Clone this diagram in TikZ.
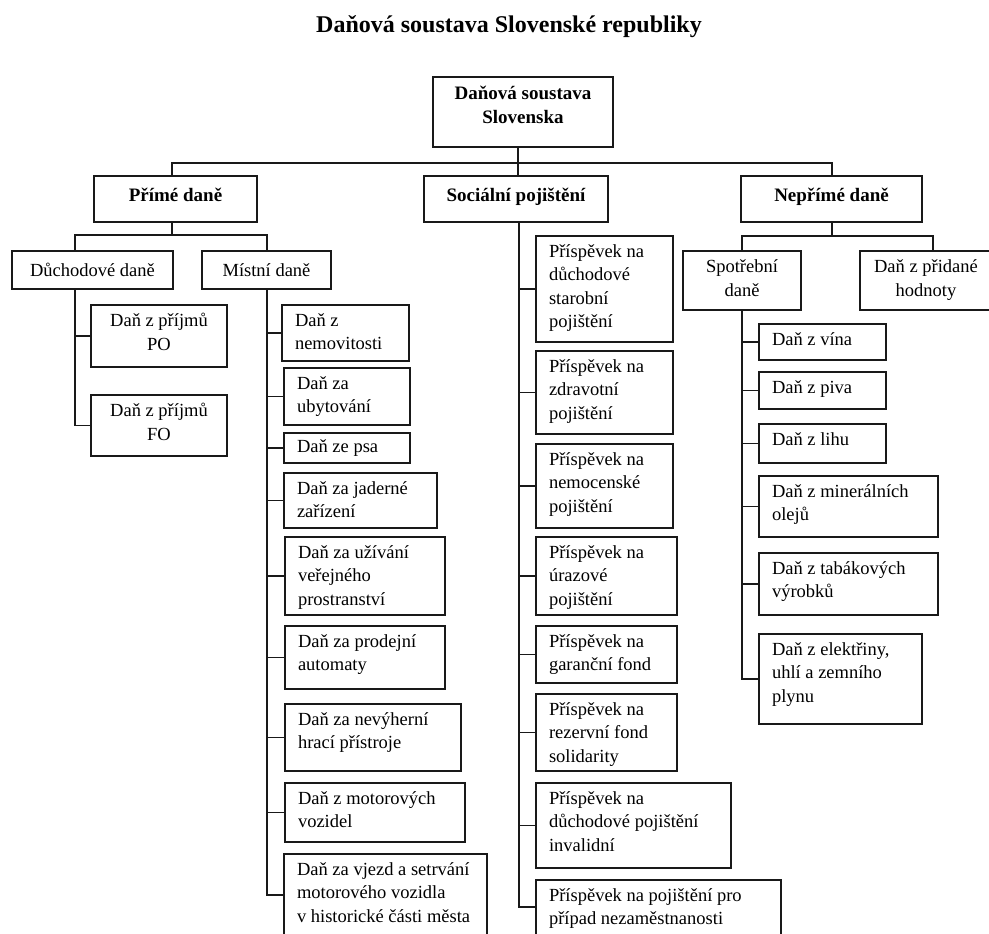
\documentclass[tikz,border=0pt]{standalone}
\usepackage{fontspec}
\setmainfont{Liberation Serif}
\tikzset{
  bx/.style={draw=black!90, line width=1.5pt, inner sep=0pt, outer sep=0pt, fill=white},
  tx/.style={inner sep=0pt, outer sep=0pt, font=\fontsize{18.5}{23.5}\selectfont},
  bt/.style={inner sep=0pt, outer sep=0pt, font=\fontsize{19}{23.5}\selectfont\bfseries},
  ln/.style={draw=black!90, line width=1.8pt},
}
% box: name x1 y1 x2 y2
\newcommand\lbx[5]{%
  \node[bx, minimum width={#4-#2}, minimum height={#5-#3}] (#1) at ({(#2+#4)/2},{(#3+#5)/2}) {};
}
% left-aligned text: [yshift] name text
\newcommand\lbxt[3][5]{%
  \node[tx, anchor=north west, align=left] (#2t) at ([xshift=13pt, yshift=-#1pt]#2.north west) {\strut #3};
}
% centred text: [yshift] name text style
\newcommand\cbxt[4][5]{%
  \node[#4, anchor=north, align=center] (#2t) at ([yshift=-#1pt]#2.north) {\strut #3};
}
\begin{document}
\begin{tikzpicture}[x=1pt, y=-1pt]
\useasboundingbox (0,0) rectangle (989,934);
\clip (0,0) rectangle (989,934);
\fill[white] (0,0) rectangle (989,934);

\node[anchor=base, font=\fontsize{24}{28}\selectfont\bfseries, inner sep=0pt] (title) at (509,33) {Daňová soustava Slovenské republiky};

% trunk coordinates
\coordinate (tD) at (75,0);
\coordinate (tM) at (267,0);
\coordinate (tS) at (519,0);
\coordinate (tC) at (742,0);
\coordinate (h0) at (518,163);
\coordinate (h1) at (172,235);
\coordinate (h2) at (832,236);

% top level
\lbx{root}{433}{77}{613}{147}
\lbx{prime}{94}{176}{257}{222}
\lbx{soc}{424}{176}{608}{222}
\lbx{nep}{741}{176}{922}{222}
\cbxt[6.5]{root}{Daňová soustava\\Slovenska}{bt}
\cbxt[9.5]{prime}{Přímé daně}{bt}
\cbxt[9.5]{soc}{Sociální pojištění}{bt}
\cbxt[9.5]{nep}{Nepřímé daně}{bt}

% second level
\lbx{duch}{12}{251}{173}{289}
\lbx{mist}{202}{251}{331}{289}
\cbxt[9.5]{duch}{Důchodové daně}{tx}
\cbxt[9.5]{mist}{Místní daně}{tx}
\lbx{sp}{683}{251}{801}{310}
\lbx{dph}{860}{251}{992}{310}
\cbxt[5.5]{sp}{Spotřební\\daně}{tx}
\cbxt[5.5]{dph}{Daň z přidané\\hodnoty}{tx}

% income taxes
\lbx{po}{91}{305}{227}{367}
\lbx{fo}{91}{395}{227}{456}
\cbxt[5.5]{po}{Daň z příjmů\\PO}{tx}
\cbxt[5.5]{fo}{Daň z příjmů\\FO}{tx}

% local taxes
\lbx{ma}{282}{305}{409}{361}
\lbx{mb}{284}{368}{410}{425}
\lbx{mc}{284}{433}{410}{463}
\lbx{md}{284}{473}{437}{528}
\lbx{me}{285}{537}{445}{615}
\lbx{mf}{285}{626}{445}{689}
\lbx{mg}{285}{704}{461}{771}
\lbx{mh}{285}{783}{465}{842}
\lbx{mi}{284}{854}{487}{940}
\lbxt{ma}{Daň z\\nemovitosti}
\lbxt{mb}{Daň za\\ubytování}
\lbxt[3.5]{mc}{Daň ze psa}
\lbxt{md}{Daň za jaderné\\zařízení}
\lbxt{me}{Daň za užívání\\veřejného\\prostranství}
\lbxt{mf}{Daň za prodejní\\automaty}
\lbxt{mg}{Daň za nevýherní\\hrací přístroje}
\lbxt{mh}{Daň z motorových\\vozidel}
\lbxt{mi}{Daň za vjezd a setrvání\\motorového vozidla\\v historické části města}

% social insurance
\lbx{sa}{536}{236}{673}{342}
\lbx{sb}{536}{351}{673}{434}
\lbx{sc}{536}{444}{673}{528}
\lbx{sd}{536}{537}{677}{615}
\lbx{se}{536}{626}{677}{683}
\lbx{sf}{536}{694}{677}{771}
\lbx{sg}{536}{783}{731}{868}
\lbx{sh}{536}{880}{781}{940}
\lbxt{sa}{Příspěvek na\\důchodové\\starobní\\pojištění}
\lbxt{sb}{Příspěvek na\\zdravotní\\pojištění}
\lbxt{sc}{Příspěvek na\\nemocenské\\pojištění}
\lbxt{sd}{Příspěvek na\\úrazové\\pojištění}
\lbxt{se}{Příspěvek na\\garanční fond}
\lbxt{sf}{Příspěvek na\\rezervní fond\\solidarity}
\lbxt{sg}{Příspěvek na\\důchodové pojištění\\invalidní}
\lbxt{sh}{Příspěvek na pojištění pro\\případ nezaměstnanosti}

% excise taxes
\lbx{ca}{759}{324}{886}{360}
\lbx{cb}{759}{372}{886}{409}
\lbx{cc}{759}{424}{886}{463}
\lbx{cd}{759}{476}{938}{537}
\lbx{ce}{759}{553}{938}{615}
\lbx{cf}{759}{634}{922}{724}
\lbxt{ca}{Daň z vína}
\lbxt{cb}{Daň z piva}
\lbxt{cc}{Daň z lihu}
\lbxt{cd}{Daň z minerálních\\olejů}
\lbxt{ce}{Daň z tabákových\\výrobků}
\lbxt{cf}{Daň z elektřiny,\\uhlí a zemního\\plynu}

% connectors
\draw[ln] (root.south -| h0) -- (h0);
\draw[ln] (prime.north -| h1) |- (h0) -| (nep.north -| h2);
\draw[ln] (soc.north -| h0) -- (h0);
\draw[ln] (prime.south -| h1) -- (h1);
\draw[ln] (duch.north -| tD) |- (h1) -| (mist.north -| tM);
\draw[ln] (nep.south -| h2) -- (h2);
\draw[ln] (sp.north -| tC) |- (h2) -| (dph.north -| 933,0);
\foreach \c in {po,fo} \draw[ln] (duch.south -| tD) |- (\c.west);
\foreach \c in {ma,mb,mc,md,me,mf,mg,mh} \draw[ln] (mist.south -| tM) |- (\c.west);
\draw[ln] (mist.south -| tM) |- (mi.west |- 0,895);
\foreach \c in {sa,sb,sc,sd,se,sf,sg} \draw[ln] (soc.south -| tS) |- (\c.west);
\draw[ln] (soc.south -| tS) |- (sh.west |- 0,907);
\foreach \c in {ca,cb,cc,cd,ce,cf} \draw[ln] (sp.south -| tC) |- (\c.west);
\end{tikzpicture}
\end{document}
